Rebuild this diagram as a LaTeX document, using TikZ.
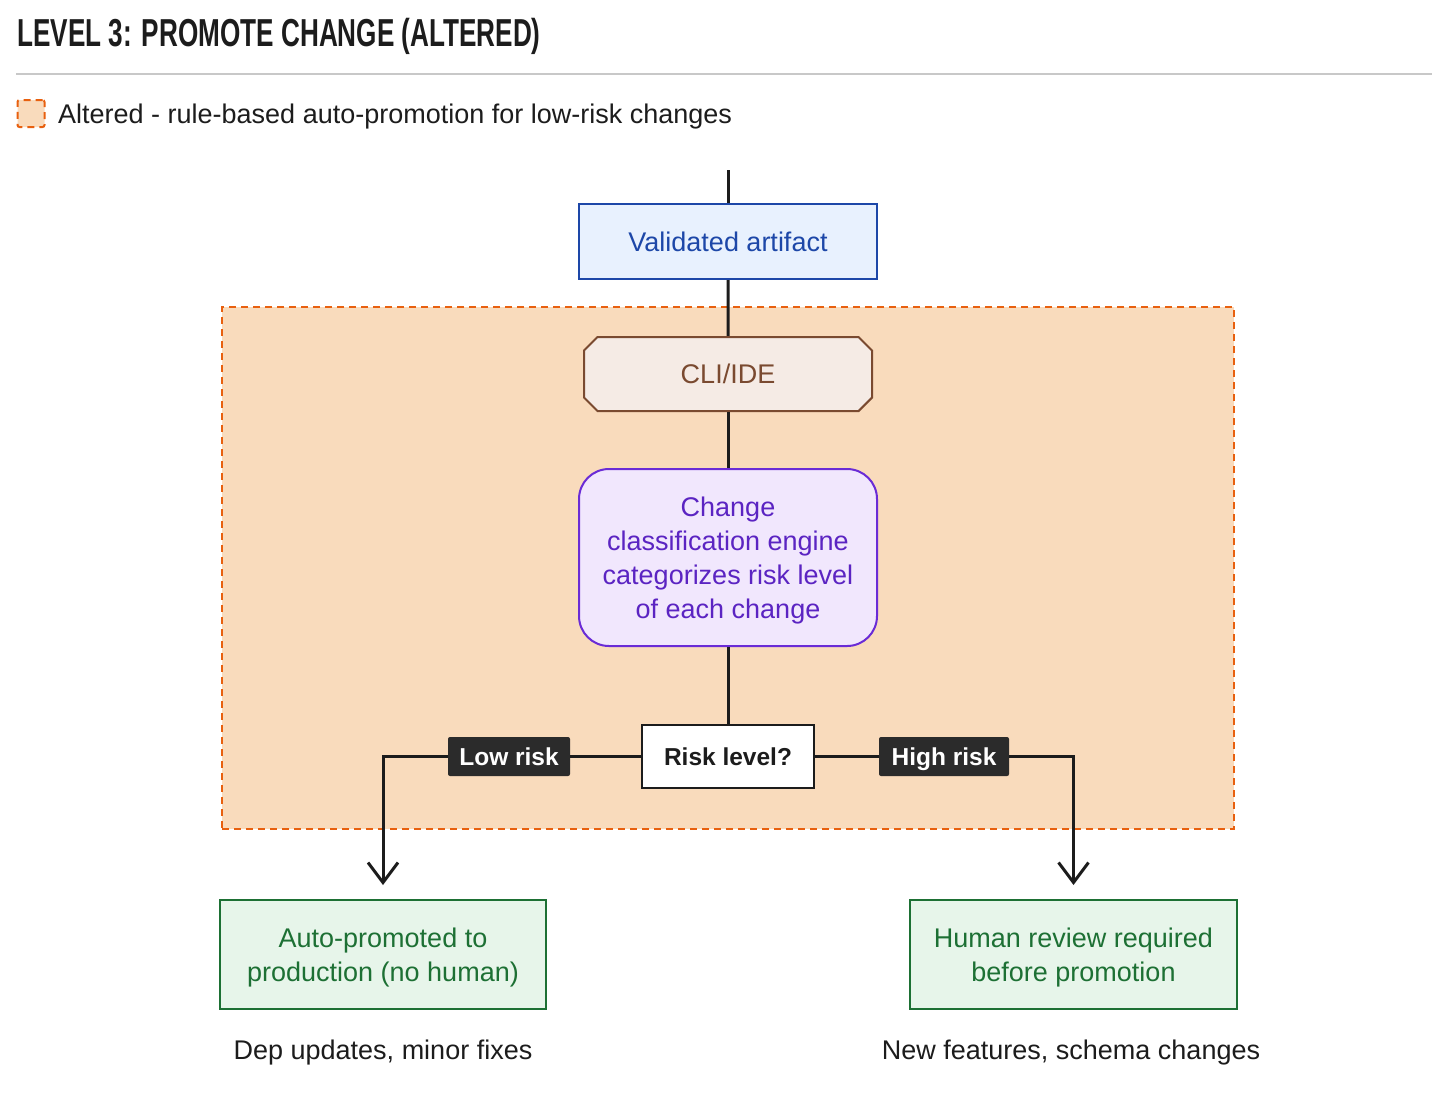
\documentclass[tikz,border=0pt]{standalone}
\usepackage{fontspec}
\setmainfont{Liberation Sans}
\newfontfamily\headfont[FakeStretch=0.67]{Liberation Sans}
\usetikzlibrary{arrows.meta,shapes.misc}

\definecolor{inkdark}{HTML}{1C1C1C}
\definecolor{rulegray}{HTML}{C8C8C8}
\definecolor{zonefill}{HTML}{F9DBBC}
\definecolor{zonedash}{HTML}{E8600F}
\definecolor{bluefill}{HTML}{E8F1FE}
\definecolor{blueink}{HTML}{1D47A8}
\definecolor{brownfill}{HTML}{F5EBE5}
\definecolor{brownink}{HTML}{7A4A30}
\definecolor{purplefill}{HTML}{F1E7FD}
\definecolor{purpledraw}{HTML}{6A2BD6}
\definecolor{purpleink}{HTML}{5B24C2}
\definecolor{greenfill}{HTML}{E7F5EA}
\definecolor{greenink}{HTML}{1D7034}
\definecolor{tagfill}{HTML}{2B2B2B}

\begin{document}
\begin{tikzpicture}[x=1pt, y=-1pt,
    txt/.style = {font=\fontsize{27}{34}\selectfont},
    main/.style = {txt, draw, line width=2pt, inner sep=0pt, align=center},
    zone/.style = {draw=zonedash, fill=zonefill, dashed, dash pattern=on 7pt off 5pt, line width=2pt},
    tag/.style = {fill=tagfill, text=white, inner sep=0pt, rounded corners=2pt, text height=17.5pt, text depth=0pt, font=\bfseries\fontsize{24.5}{30}\selectfont},
    wire/.style = {draw=inkdark, line width=3pt},
    arr/.style = {wire, -{Straight Barb[length=20pt, width=30pt]}}]

    \useasboundingbox (0,0) rectangle (1456,1096);

    \node[anchor=west, text=inkdark, font=\headfont\bfseries\fontsize{39}{39}\selectfont] (title) at (14,36) {LEVEL 3: PROMOTE CHANGE (ALTERED)};
    \draw[rulegray, line width=1.5pt] (16,74) -- (1432,74);
    \node[zone, minimum size=27pt, inner sep=0pt, rounded corners=2pt] (key) at (31,113.5) {};
    \node[txt, anchor=west, text=inkdark, inner sep=0pt] (keytext) at (58,117) {Altered - rule-based auto-promotion for low-risk changes};

    \node[zone, minimum width=1012pt, minimum height=522pt] (region) at (728,568) {};

    \coordinate (in) at (728,170);
    \node[main, draw=blueink, fill=bluefill, text=blueink, minimum width=298pt, minimum height=75pt] (valid) at (728,241.5) {Validated artifact};
    \node[main, chamfered rectangle, chamfered rectangle xsep=22pt, draw=brownink, fill=brownfill, text=brownink, minimum width=288pt, minimum height=74pt] (cli) at (728,374) {CLI/IDE};
    \node[main, text depth=0pt, rounded corners=30pt, draw=purpledraw, fill=purplefill, text=purpleink, minimum width=298pt, minimum height=177pt] (engine) at (728,557.5) {Change\\classification engine\\categorizes risk level\\of each change};
    \node[main, draw=inkdark, fill=white, text=inkdark, font=\bfseries\fontsize{24.5}{30}\selectfont, minimum width=172pt, minimum height=63pt] (risk) at (728,756.5) {Risk level?};

    \node[tag, minimum width=122pt, minimum height=39pt] (low) at (509,756.5) {Low risk};
    \node[tag, minimum width=130pt, minimum height=39pt] (high) at (944,756.5) {High risk};

    \node[main, text depth=0pt, draw=greenink, fill=greenfill, text=greenink, minimum width=326pt, minimum height=109pt] (auto) at (383,954.5) {Auto-promoted to\\production (no human)};
    \node[main, text depth=0pt, draw=greenink, fill=greenfill, text=greenink, minimum width=327pt, minimum height=109pt] (human) at (1073.5,954.5) {Human review required\\before promotion};

    \node[txt, text=inkdark] (lowcases) at (383,1053) {Dep updates, minor fixes};
    \node[txt, text=inkdark] (highcases) at (1071,1053) {New features, schema changes};

    \draw[wire] (in) -- (valid);
    \draw[wire] (valid) -- (cli);
    \draw[wire] (cli) -- (engine);
    \draw[wire] (engine) -- (risk);
    \draw[wire] (risk) -- (low);
    \draw[wire] (risk) -- (high);
    \draw[arr] (low) -| ([yshift=14pt]auto.north);
    \draw[arr] (high) -| ([yshift=14pt]human.north);

\end{tikzpicture}
\end{document}
